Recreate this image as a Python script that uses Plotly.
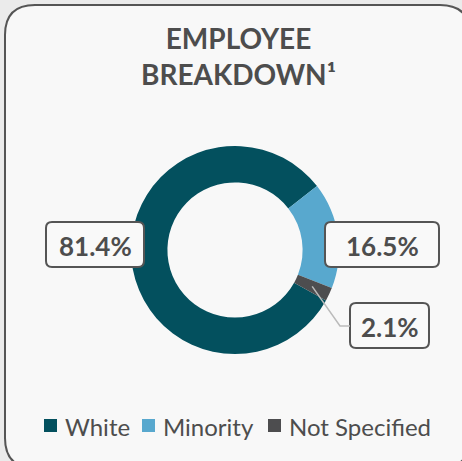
import math
import plotly.graph_objects as go

# ---- data ----
categories = ["White", "Minority", "Not Specified"]
values = [81.4, 16.5, 2.1]
value_labels = ["81.4%", "16.5%", "2.1%"]
colors = ["#03505e", "#58a8ce", "#4d4d4f"]
title_lines = ["EMPLOYEE", "BREAKDOWN¹"]

W, H = 462, 461
TEXT = "#4d4d4d"


def px(x):
    return x / W


def py(y):
    return 1 - y / H


def rrect(x0, y0, x1, y1, r):
    """Rounded rect path in paper coordinates from pixel coordinates."""
    pts = [
        ("M", [(x0 + r, y0)]),
        ("L", [(x1 - r, y0)]),
        ("Q", [(x1, y0), (x1, y0 + r)]),
        ("L", [(x1, y1 - r)]),
        ("Q", [(x1, y1), (x1 - r, y1)]),
        ("L", [(x0 + r, y1)]),
        ("Q", [(x0, y1), (x0, y1 - r)]),
        ("L", [(x0, y0 + r)]),
        ("Q", [(x0, y0), (x0 + r, y0)]),
    ]
    s = ""
    for cmd, ps in pts:
        s += cmd + " ".join(f"{px(a):.5f},{py(b):.5f}" for a, b in ps) + " "
    return s + "Z"


# donut geometry (pixels)
cx, cy, R = 235, 250, 104
start_angle = 119

fig = go.Figure()
fig.add_trace(
    go.Pie(
        labels=categories,
        values=values,
        marker=dict(colors=colors, line=dict(width=0)),
        hole=0.65,
        sort=False,
        direction="clockwise",
        rotation=start_angle,
        textinfo="none",
        hoverinfo="label+percent",
        showlegend=False,
        domain=dict(x=[px(cx - R), px(cx + R)], y=[py(cy + R), py(cy - R)]),
    )
)

shapes = []
# card
shapes.append(dict(type="path", xref="paper", yref="paper",
                   path=rrect(5, 5, 470, 468, 30),
                   fillcolor="#f8f8f8", line=dict(color="#555555", width=2), layer="below"))

# label boxes (pixel positions)
boxes = [(46, 222, 144, 267), (325, 222, 439, 267), (350, 303, 429, 348)]
annotations = []
for (x0, y0, x1, y1), lab in zip(boxes, value_labels):
    shapes.append(dict(type="path", xref="paper", yref="paper",
                       path=rrect(x0, y0, x1, y1, 6),
                       fillcolor="#f9f9f9", line=dict(color="#555555", width=2), layer="above"))
    annotations.append(dict(x=px((x0 + x1) / 2), y=py((y0 + y1) / 2 + 1), xref="paper", yref="paper",
                            text=f"<b>{lab}</b>", showarrow=False,
                            font=dict(family="Lato", size=26, color=TEXT),
                            xanchor="center", yanchor="middle"))

# leader line for smallest slice, from its mid-angle
cum = 0
mid_angles = []
tot = sum(values)
for v in values:
    mid_angles.append(start_angle + (cum + v / 2) / tot * 360)
    cum += v
a = math.radians(mid_angles[2])
r0 = R * 0.82
sx, sy = cx + r0 * math.sin(a), cy - r0 * math.cos(a)
shapes.append(dict(type="path", xref="paper", yref="paper",
                   path=f"M{px(sx):.5f},{py(sy):.5f} L{px(340):.5f},{py(326):.5f} L{px(350):.5f},{py(326):.5f}",
                   line=dict(color="#bbbbbb", width=1.5), layer="above"))

# title
annotations.append(dict(x=px(239), y=py(56), xref="paper", yref="paper",
                        text="<b>" + "<br>".join(title_lines) + "</b>", showarrow=False,
                        font=dict(family="Lato", size=28, color=TEXT),
                        xanchor="center", yanchor="middle"))

# legend (square swatch + label per category)
legend_x = [44, 142, 268]
legend_y = 426
sq = 13
for lx, name, col in zip(legend_x, categories, colors):
    shapes.append(dict(type="rect", xref="paper", yref="paper",
                       x0=px(lx), x1=px(lx + sq), y0=py(legend_y - sq / 2 - 0.5), y1=py(legend_y + sq / 2 - 0.5),
                       fillcolor=col, line=dict(width=0), layer="above"))
    annotations.append(dict(x=px(lx + sq + 6), y=py(legend_y), xref="paper", yref="paper",
                            text=name, showarrow=False,
                            font=dict(family="Lato", size=24, color=TEXT),
                            xanchor="left", yanchor="middle"))

fig.update_layout(
    width=W, height=H,
    margin=dict(l=0, r=0, t=0, b=0),
    paper_bgcolor="#ebebeb",
    plot_bgcolor="#ebebeb",
    shapes=shapes,
    annotations=annotations,
    showlegend=False,
)

fig.write_html(
    "out.html",
    config={"displayModeBar": False},
    post_script="document.body.style.margin='0';document.body.style.overflow='hidden';",
)
